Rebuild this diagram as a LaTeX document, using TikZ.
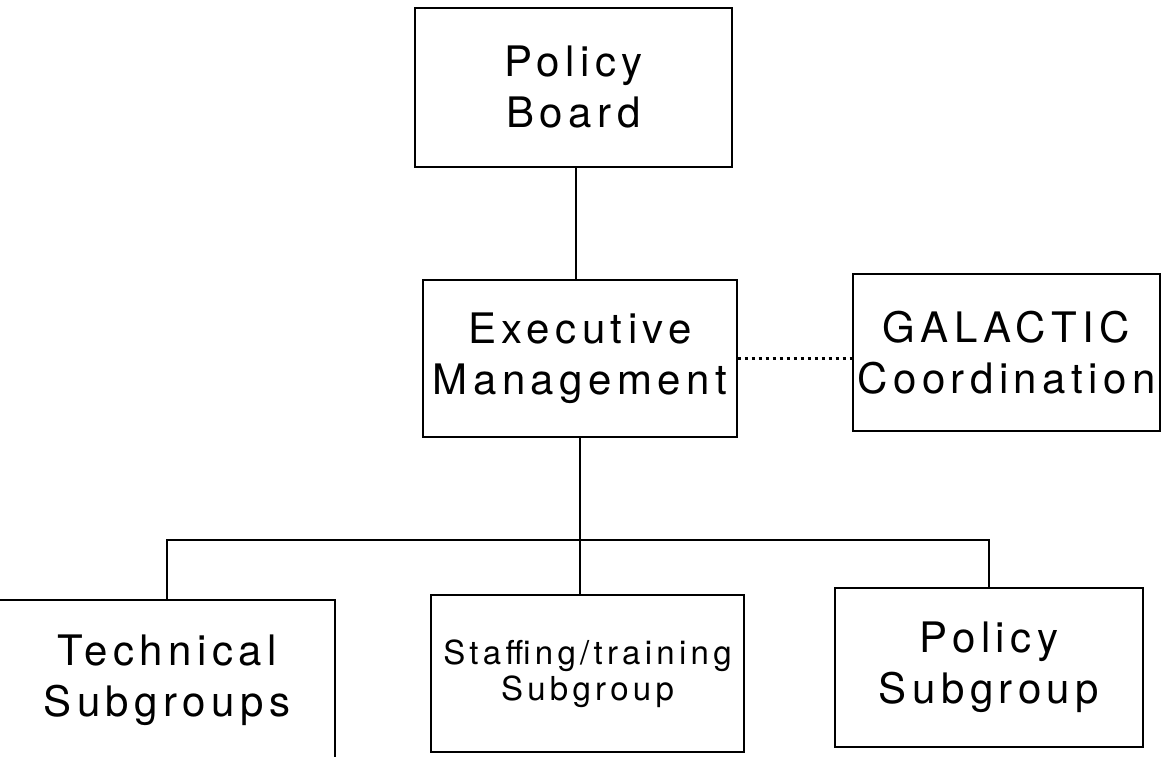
\documentclass[tikz,border=0pt]{standalone}
\usepackage{fontspec}
\usepackage{tikz}
\usetikzlibrary{calc}
\newfontfamily\orgfont[LetterSpace=13]{TeX Gyre Heros}
\tikzset{
	orgbox/.style={draw, line width=1.4pt, inner sep=0pt, align=center,
		font=\orgfont\fontsize{42}{51}\selectfont},
	smallbox/.style={orgbox, font=\orgfont\fontsize{33}{36}\selectfont},
	link/.style={line width=1.1pt}
}

\begin{document}
\begin{tikzpicture}[x=1pt, y=-1pt]
			%%%%% START %%%%%
			
			\useasboundingbox (0, 0) rectangle (1165, 756);
			
			\node[orgbox, minimum width=317pt, minimum height=159pt] (board) at (573.5, 87.5) {Policy\\Board};
			\node[orgbox, minimum width=314pt, minimum height=157pt] (exec) at (580, 358.5) {Executive\\Management};
			\node[orgbox, minimum width=307pt, minimum height=157pt] (galactic) at (1006.5, 352.5) {GALACTIC\\Coordination};
			
			\node[orgbox, minimum width=336pt, minimum height=160pt] (tech) at (167, 680) {Technical\\Subgroups};
			\node[smallbox, minimum width=313pt, minimum height=157pt] (staff) at (587.5, 673.5) {Staffing/training\\Subgroup};
			\node[orgbox, minimum width=308pt, minimum height=159pt] (polsub) at (989, 667.5) {Policy\\Subgroup};
			
			\coordinate (bus) at (583, 540);
			
			\draw[link] (board.south -| 576, 0) -- (exec.north -| 576, 0);
			\draw[line width=2.2pt, dash pattern=on 3pt off 4pt] (exec.east) -- (exec.east -| galactic.west);
			\draw[link] (exec.south) -- (staff.north -| exec.south);
			\draw[link] (tech.north) |- (bus) -| (polsub.north);
			
			%%%%% END %%%%%
\end{tikzpicture}
\end{document}
